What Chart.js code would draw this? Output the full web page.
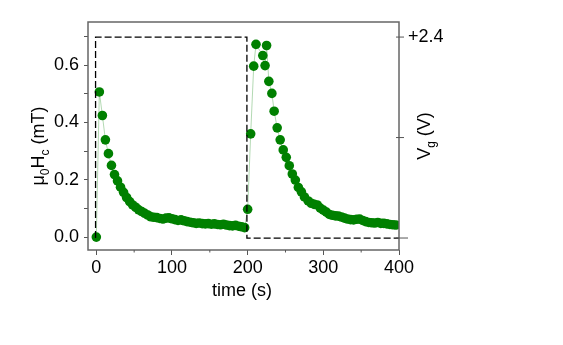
<!DOCTYPE html>
<html>
<head>
<meta charset="utf-8">
<script src="https://cdn.jsdelivr.net/npm/chart.js@4/dist/chart.umd.min.js"></script>
<style>
html, body { margin: 0; padding: 0; background: #fff; }
#wrap { width: 563px; height: 345px; }
</style>
</head>
<body>
<div id="wrap"><canvas id="hcChart" width="563" height="345"></canvas></div>
<script>
// coercive field, two gate pulses
const hcTime = [
    0, 4, 8, 12, 16, 20, 24, 28, 32, 36, 40, 44, 48, 52, 56, 60, 64, 68, 72, 76,
    80, 84, 88, 92, 96, 100, 104, 108, 112, 116, 120, 124, 128, 132, 136, 140, 144, 148, 152, 156,
    160, 164, 168, 172, 176, 180, 184, 188, 192, 196,
    200, 204, 208, 211, 220, 223, 225, 228, 232, 235, 239, 243, 247, 251, 255, 259, 263, 267, 271, 275,
    280, 284, 288, 292, 296, 300, 304, 308, 312, 316, 320, 324, 328, 332, 336, 340, 344, 348, 352, 356,
    360, 364, 368, 372, 376, 380, 384, 388, 392, 396
];
const hcValue = [
    0.000, 0.506, 0.424, 0.339, 0.291, 0.250, 0.218, 0.196, 0.174, 0.156, 0.138, 0.124, 0.112, 0.104, 0.095, 0.089, 0.083, 0.077, 0.071, 0.069,
    0.068, 0.065, 0.063, 0.066, 0.067, 0.064, 0.061, 0.058, 0.060, 0.057, 0.054, 0.052, 0.050, 0.048, 0.049, 0.047, 0.046, 0.047, 0.045, 0.046,
    0.044, 0.043, 0.045, 0.042, 0.040, 0.039, 0.041, 0.038, 0.036, 0.033,
    0.097, 0.360, 0.596, 0.672, 0.633, 0.598, 0.668, 0.543, 0.501, 0.439, 0.381, 0.339, 0.304, 0.278, 0.249, 0.220, 0.199, 0.173, 0.158, 0.140,
    0.126, 0.118, 0.114, 0.112, 0.101, 0.094, 0.087, 0.079, 0.076, 0.074, 0.073, 0.070, 0.066, 0.063, 0.061, 0.060, 0.062, 0.063, 0.058, 0.054,
    0.051, 0.050, 0.049, 0.051, 0.048, 0.048, 0.046, 0.044, 0.043, 0.042
];

// gate voltage square pulse
const gateTime = [-1, -1, 199, 199, 400];
const gateVolt = [0, 2.4, 2.4, 0, 0];

const xTicks = [0, 100, 200, 300, 400];
const xMinorTicks = [50, 150, 250, 350];
const yTicks = [0, 0.1, 0.2, 0.3, 0.4, 0.5, 0.6, 0.7];
const yTickLabels = ['0.0', '', '0.2', '', '0.4', '', '0.6', ''];
const vTicks = [0, 1.2, 2.4];
const vTickLabels = ['', '', '+2.4'];

const FONT = '"Liberation Sans", Arial, sans-serif';

function drawRich(ctx, parts, x, y) {
    // parts: [text, isSub]
    let w = 0;
    parts.forEach(p => {
        ctx.font = (p[1] ? '12px ' : '18px ') + FONT;
        w += ctx.measureText(p[0]).width;
    });
    let cx = -w / 2;
    ctx.save();
    ctx.translate(x, y);
    ctx.rotate(-Math.PI / 2);
    ctx.fillStyle = '#000';
    ctx.textBaseline = 'alphabetic';
    ctx.textAlign = 'left';
    parts.forEach(p => {
        ctx.font = (p[1] ? '12px ' : '18px ') + FONT;
        ctx.fillText(p[0], cx, p[1] ? 5 : 0);
        cx += ctx.measureText(p[0]).width;
    });
    ctx.restore();
}

const extras = {
    id: 'extras',
    afterDraw(chart) {
        const ctx = chart.ctx;
        const a = chart.chartArea;
        const xs = chart.scales.x;
        const vs = chart.scales.y2;
        ctx.save();
        ctx.strokeStyle = '#666';
        ctx.lineWidth = 1.5;
        ctx.strokeRect(a.left, a.top, a.right - a.left, a.bottom - a.top);

        ctx.strokeStyle = '#555';
        ctx.lineWidth = 1;
        xMinorTicks.forEach(v => {
            const px = xs.getPixelForValue(v);
            ctx.beginPath();
            ctx.moveTo(px, a.bottom);
            ctx.lineTo(px, a.bottom + 2.5);
            ctx.stroke();
        });
        // right axis ticks cross the frame, the zero one reaches further out
        vTicks.forEach(v => {
            const py = vs.getPixelForValue(v);
            ctx.beginPath();
            ctx.moveTo(a.right - 3, py);
            ctx.lineTo(a.right + (v === 0 ? 9 : 5), py);
            ctx.stroke();
        });

        ctx.fillStyle = '#000';
        ctx.font = '18px ' + FONT;
        ctx.textAlign = 'center';
        ctx.textBaseline = 'alphabetic';
        ctx.fillText('time (s)', 242, 296);
        ctx.restore();

        drawRich(ctx, [['μ', false], ['0', true], ['H', false], ['c', true], [' (mT)', false]], 44, 146);
        drawRich(ctx, [['V', false], ['g', true], [' (V)', false]], 430, 136);
    }
};

document.addEventListener('DOMContentLoaded', function () {
    const hcPoints = hcTime.map((t, i) => ({ x: t, y: hcValue[i] }));
    const gatePoints = gateTime.map((t, i) => ({ x: t, y: gateVolt[i] }));
    const tickFont = { family: FONT, size: 18 };

    new Chart(document.getElementById('hcChart'), {
        type: 'scatter',
        data: {
            datasets: [{
                data: gatePoints,
                yAxisID: 'y2',
                showLine: true,
                borderColor: '#000',
                borderWidth: 1.3,
                borderDash: [7, 3],
                pointRadius: 0,
                order: 0
            }, {
                data: hcPoints,
                yAxisID: 'y',
                showLine: true,
                borderColor: 'rgba(0,128,0,0.3)',
                borderWidth: 1,
                pointRadius: 4.8,
                pointBackgroundColor: '#008000',
                pointBorderColor: '#008000',
                pointBorderWidth: 0,
                order: 1
            }]
        },
        options: {
            responsive: false,
            animation: false,
            devicePixelRatio: 1,
            layout: { padding: { top: 22, left: 0, right: 0, bottom: 0 } },
            plugins: { legend: { display: false }, tooltip: { enabled: false } },
            scales: {
                x: {
                    type: 'linear',
                    position: 'bottom',
                    min: -11,
                    max: 400,
                    afterBuildTicks: s => { s.ticks = xTicks.map(v => ({ value: v })); },
                    afterFit: s => { s.height = 95; },
                    ticks: { font: tickFont, color: '#000', padding: 2, maxRotation: 0, autoSkip: false },
                    grid: { drawOnChartArea: false, drawTicks: true, tickLength: 5, tickColor: '#555' },
                    border: { display: false }
                },
                y: {
                    position: 'left',
                    min: -0.045,
                    max: 0.75,
                    afterBuildTicks: s => { s.ticks = yTicks.map(v => ({ value: v })); },
                    afterFit: s => { s.width = 88; },
                    ticks: { font: tickFont, color: '#000', padding: 5, autoSkip: false, callback: (v, i) => yTickLabels[i] },
                    grid: { drawOnChartArea: false, drawTicks: true, tickLength: 4, tickColor: '#555' },
                    border: { display: false }
                },
                y2: {
                    position: 'right',
                    min: -0.143,
                    max: 2.58,
                    afterBuildTicks: s => { s.ticks = vTicks.map(v => ({ value: v })); },
                    afterFit: s => { s.width = 164; },
                    ticks: { font: tickFont, color: '#000', padding: 9, autoSkip: false, callback: (v, i) => vTickLabels[i] },
                    grid: { drawOnChartArea: false, drawTicks: false },
                    border: { display: false }
                }
            }
        },
        plugins: [extras]
    });
});
</script>
</body>
</html>
